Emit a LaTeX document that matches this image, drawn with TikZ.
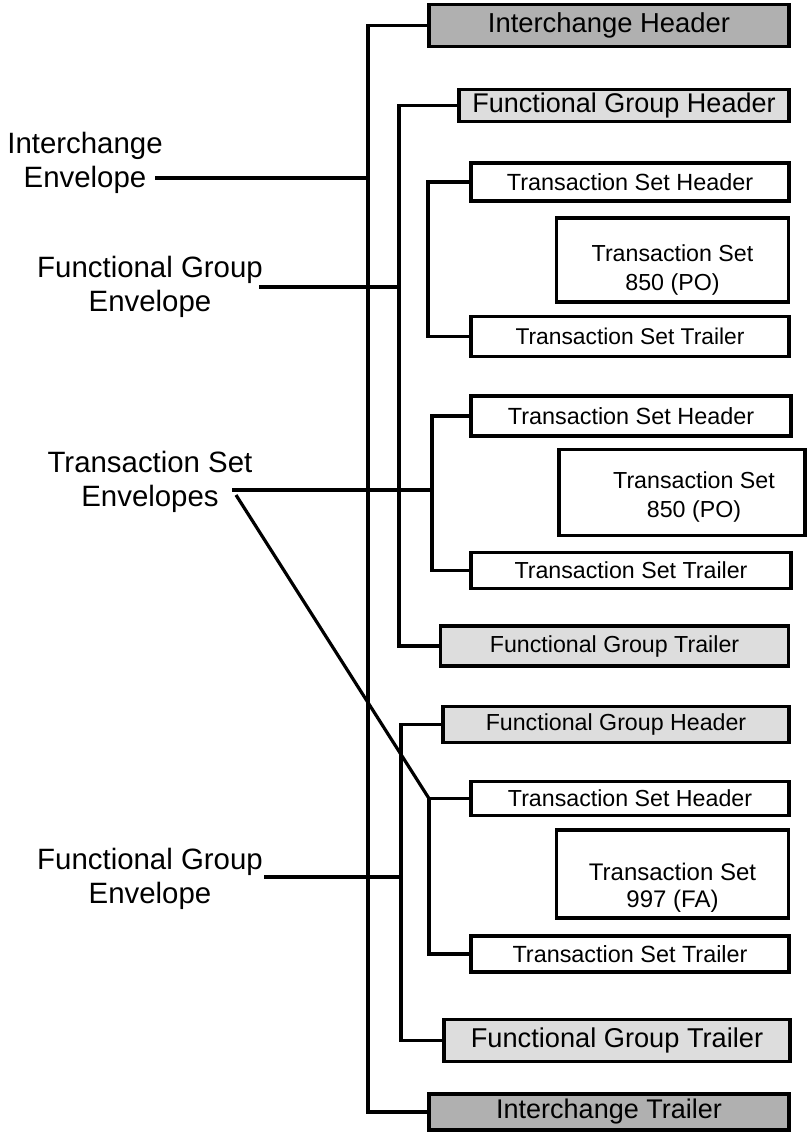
\documentclass[tikz,border=0pt]{standalone}
\usepackage{fontspec}
\setmainfont{Liberation Sans}
\begin{document}
\begin{tikzpicture}[x=0.5pt,y=-0.5pt,
  seg/.style={draw, line width=1.75pt, inner sep=0pt, align=center},
  ichg/.style={seg, fill=gray!62},
  fgrp/.style={seg, fill=gray!27},
  conn/.style={line width=1.6pt},
  lbl/.style={inner sep=0pt, align=center, font=\fontsize{14.7}{17}\selectfont}]
\useasboundingbox (0,0) rectangle (808,1138);

% envelope labels
\node[lbl] (ienv) at (85,163) {Interchange\\Envelope};
\node[lbl] (genv1) at (150,287) {Functional Group\\Envelope};
\node[lbl] (tenv) at (150,482) {Transaction Set\\Envelopes};
\node[lbl] (genv2) at (150,879) {Functional Group\\Envelope};

% segments
\node[ichg, minimum width=180pt, minimum height=21pt, font=\fontsize{13.7}{16}\selectfont] (ih) at (609,25.5) {Interchange Header};
\node[fgrp, minimum width=165pt, minimum height=16pt, font=\fontsize{13.5}{16}\selectfont] (fgh1) at (624,105.5) {Functional Group Header};
\node[seg, minimum width=159pt, minimum height=19pt, font=\fontsize{11.7}{14}\selectfont] (tsh1) at (630,182) {Transaction Set Header};
\node[seg, minimum width=116pt, minimum height=42pt, font=\fontsize{11.6}{14.5}\selectfont] (ts1) at (672.5,260) {\rule{0pt}{18.5pt}Transaction Set\\850 (PO)};
\node[seg, minimum width=159pt, minimum height=20pt, font=\fontsize{11.4}{14}\selectfont] (tst1) at (630,336.5) {Transaction Set Trailer};

\node[seg, minimum width=160pt, minimum height=20pt, font=\fontsize{11.7}{14}\selectfont] (tsh2) at (631,416) {Transaction Set Header};
\node[seg, minimum width=123pt, minimum height=43pt, font=\fontsize{11.6}{14.5}\selectfont] (ts2) at (682,492.5) {\rule{0pt}{12.5pt}\hspace*{12pt}Transaction Set\\\hspace*{12pt}850 (PO)};
\node[seg, minimum width=160pt, minimum height=18pt, font=\fontsize{11.6}{14}\selectfont] (tst2) at (631,570.5) {Transaction Set Trailer};
\node[fgrp, minimum width=174pt, minimum height=20pt, font=\fontsize{11.6}{14}\selectfont] (fgt1) at (614.5,646) {Functional Group Trailer};

\node[fgrp, minimum width=173pt, minimum height=18pt, font=\fontsize{11.6}{14}\selectfont] (fgh2) at (616,724.5) {Functional Group Header};
\node[seg, minimum width=159pt, minimum height=17pt, font=\fontsize{11.6}{14}\selectfont] (tsh3) at (630,798.5) {Transaction Set Header};
\node[seg, minimum width=116pt, minimum height=44pt, font=\fontsize{12}{13.5}\selectfont] (ts3) at (672.5,874) {\rule{0pt}{22.5pt}Transaction Set\\997 (FA)};
\node[seg, minimum width=159pt, minimum height=18pt, font=\fontsize{11.7}{14}\selectfont] (tst3) at (630,954) {Transaction Set Trailer};
\node[fgrp, minimum width=173pt, minimum height=21pt, font=\fontsize{13.6}{16}\selectfont] (fgt2) at (617,1040.5) {Functional Group Trailer};
\node[ichg, minimum width=180pt, minimum height=18pt, font=\fontsize{13.5}{16}\selectfont] (it) at (609,1112) {Interchange Trailer};

% trunk corners and label ends
\coordinate (ti) at (368,25.5);
\coordinate (tg1) at (399,105.5);
\coordinate (tt1) at (428,182);
\coordinate (tt2) at (432,416);
\coordinate (tg2) at (401,724.5);
\coordinate (tt3) at (429,798.5);
\coordinate (ienvx) at (155,178);
\coordinate (genv1x) at (259,287);
\coordinate (tenvx) at (232,490);
\coordinate (tenvd) at (236,495);
\coordinate (genv2x) at (264,877);

% brackets
\draw[conn] (ih.west) -- (ti) |- (it.west);
\draw[conn] (fgh1.west) -- (tg1) |- (fgt1.west);
\draw[conn] (tsh1.west) -- (tt1) |- (tst1.west);
\draw[conn] (tsh2.west) -- (tt2) |- (tst2.west);
\draw[conn] (fgh2.west) -- (tg2) |- (fgt2.west);
\draw[conn] (tsh3.west) -- (tt3) |- (tst3.west);

% label lines
\draw[conn] (ienvx) -- (ienvx -| ti);
\draw[conn] (genv1x) -- (genv1x -| tg1);
\draw[conn] (tenvx) -- (tenvx -| tt2);
\draw[conn] (tenvd) -- (tt3);
\draw[conn] (genv2x) -- (genv2x -| tg2);
\end{tikzpicture}
\end{document}
